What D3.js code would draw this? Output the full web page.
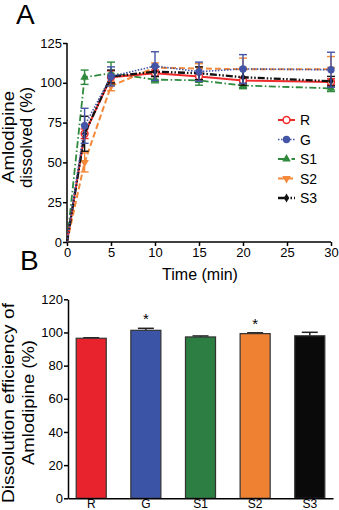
<!DOCTYPE html>
<html><head><meta charset="utf-8">
<script src="https://cdn.jsdelivr.net/npm/d3@7/dist/d3.min.js"></script>
<style>
body{margin:0;background:#fff;}
svg{display:block;font-family:"Liberation Sans",Arial,sans-serif;}
</style></head>
<body>
<svg id="c" width="339" height="510"></svg>
<script>
// ---- Panel A data ----
const times = [0, 2, 5, 10, 15, 20, 30];
const seriesNames = ["R", "G", "S1", "S2", "S3"];
const valR  = [0, 68, 103.5, 106, 104, 101.5, 100.5];
const errR  = [0, 3, 4, 2, 2, 2, 2];
const valG  = [0, 73, 104, 110.5, 107, 108.7, 108.2];
const errG  = [0, 11, 6, 9, 6, 9, 11];
const valS1 = [0, 103.5, 106, 102, 101.5, 98.3, 96.5];
const errS1 = [0, 4.5, 7, 2, 3, 2, 2];
const valS2 = [0, 50, 98, 109.5, 109, 108.5, 108.5];
const errS2 = [0, 6, 3, 3, 3, 7, 8];
const valS3 = [0, 68, 104, 107, 106, 103.5, 101];
const errS3 = [0, 11, 4, 3, 4, 5, 3];
const xTicksA = [0, 5, 10, 15, 20, 25, 30];
const yTicksA = [0, 25, 50, 75, 100, 125];

// ---- Panel B data ----
const barCats = ["R", "G", "S1", "S2", "S3"];
const barVals = [96.5, 101.3, 97.3, 99.3, 98];
const barErrs = [0.3, 1.2, 0.6, 0.5, 2.1];
const barSig  = [false, true, false, true, false];
const yTicksB = [0, 20, 40, 60, 80, 100, 120];

const colors = {R:"#ee2a2a", G:"#4454a6", S1:"#2f8a3e", S2:"#f4893a", S3:"#111111"};
const barColors = ["#e8232d", "#3c54a5", "#2d7e42", "#ef8232", "#0a0a0a"];
const dashes = {R:null, G:"1.5,1.5", S1:"7,2.5,1.5,2.5", S2:"6,3", S3:"7,2,1.5,2,1.5,2"};
const widths = {R:2, G:1.6, S1:1.8, S2:2, S3:2.3};
const markers = {R:"circleOpen", G:"circle", S1:"triUp", S2:"triDown", S3:"diamond"};

const svg = d3.select("#c");

// ===== Panel A =====
const xA = d3.scaleLinear().domain([0, 30]).range([67, 331]);
const yA = d3.scaleLinear().domain([0, 125]).range([242, 43]);

const axA = svg.append("g").attr("transform", "translate(0,242)")
  .call(d3.axisBottom(xA).tickValues(xTicksA).tickSize(4).tickSizeOuter(0).tickPadding(2));
const ayA = svg.append("g").attr("transform", "translate(67,0)")
  .call(d3.axisLeft(yA).tickValues(yTicksA).tickSize(4).tickSizeOuter(0).tickPadding(1));
[axA, ayA].forEach(g => {
  g.selectAll("path,line").attr("stroke", "#000").attr("stroke-width", 1.5);
  g.selectAll("text").attr("font-size", 13).attr("fill", "#000").attr("font-family", "Liberation Sans, Arial, sans-serif");
});
axA.select(".domain").attr("d", "M67,0H331");
ayA.select(".domain").attr("d", "M0,242V43");

const seriesData = {
  R: [valR, errR], G: [valG, errG], S1: [valS1, errS1], S2: [valS2, errS2], S3: [valS3, errS3]
};

function drawMarker(g, type, x, y, col) {
  if (type === "circleOpen") {
    g.append("circle").attr("cx", x).attr("cy", y).attr("r", 3.4).attr("fill", "#fff").attr("stroke", col).attr("stroke-width", 1.5);
  } else if (type === "circle") {
    g.append("circle").attr("cx", x).attr("cy", y).attr("r", 3.7).attr("fill", col);
  } else if (type === "triUp") {
    g.append("path").attr("d", d3.symbol(d3.symbolTriangle, 32)()).attr("transform", `translate(${x},${y})`).attr("fill", col);
  } else if (type === "triDown") {
    g.append("path").attr("d", d3.symbol(d3.symbolTriangle, 32)()).attr("transform", `translate(${x},${y}) rotate(180)`).attr("fill", col);
  } else if (type === "diamond") {
    g.append("path").attr("d", d3.symbol(d3.symbolDiamond, 24)()).attr("transform", `translate(${x},${y})`).attr("fill", col);
  }
}

const line = d3.line().x(d => xA(d[0])).y(d => yA(d[1]));
const drawOrder = ["S2", "S1", "R", "S3", "G"];
drawOrder.forEach(name => {
  const [vals, errs] = seriesData[name];
  const col = colors[name];
  const g = svg.append("g");
  times.forEach((t, i) => {
    if (errs[i] <= 0) return;
    const x = xA(t), y1 = yA(vals[i] + errs[i]), y0 = yA(vals[i] - errs[i]);
    g.append("line").attr("x1", x).attr("x2", x).attr("y1", y0).attr("y2", y1).attr("stroke", col).attr("stroke-width", 1.4);
    [y0, y1].forEach(yy => g.append("line").attr("x1", x - 4).attr("x2", x + 4).attr("y1", yy).attr("y2", yy).attr("stroke", col).attr("stroke-width", 1.4));
  });
  g.append("path").datum(times.map((t, i) => [t, vals[i]])).attr("d", line)
    .attr("fill", "none").attr("stroke", col).attr("stroke-width", widths[name])
    .attr("stroke-dasharray", dashes[name]);
  times.forEach((t, i) => { if (i > 0) drawMarker(g, markers[name], xA(t), yA(vals[i]), col); });
});

// legend
const legY = d3.scalePoint().domain(seriesNames).range([120, 198]);
seriesNames.forEach(name => {
  const col = colors[name];
  const y = legY(name);
  const g = svg.append("g");
  g.append("line").attr("x1", 278).attr("x2", 295).attr("y1", y).attr("y2", y).attr("stroke", col)
    .attr("stroke-width", widths[name]).attr("stroke-dasharray", dashes[name]);
  drawMarker(g, markers[name], 286.5, y, col);
  g.append("text").attr("x", 300).attr("y", y + 5).attr("font-size", 14).text(name);
});

svg.append("text").attr("x", 200).attr("y", 280).attr("text-anchor", "middle").attr("font-size", 16).text("Time (min)");
svg.append("text").attr("transform", "translate(14,137) rotate(-90)").attr("text-anchor", "middle").attr("font-size", 17)
  .attr("textLength", 92).attr("lengthAdjust", "spacingAndGlyphs").text("Amlodipine");
svg.append("text").attr("transform", "translate(32,137.5) rotate(-90)").attr("text-anchor", "middle").attr("font-size", 17)
  .attr("textLength", 101).attr("lengthAdjust", "spacingAndGlyphs").text("dissolved (%)");
svg.append("text").attr("x", 16).attr("y", 24).attr("font-size", 28).text("A");
svg.append("text").attr("x", 20).attr("y", 270).attr("font-size", 28).text("B");

// ===== Panel B =====
const xB = d3.scaleBand().domain(barCats).range([68, 333]).paddingInner(0.45).paddingOuter(0.15);
const yB = d3.scaleLinear().domain([0, 120]).range([498.3, 299.3]);

const gb = svg.append("g");
barCats.forEach((c, i) => {
  const x = xB(c), w = xB.bandwidth(), cx = x + w / 2;
  const top = yB(barVals[i] + barErrs[i]);
  gb.append("line").attr("x1", cx).attr("x2", cx).attr("y1", yB(barVals[i])).attr("y2", top).attr("stroke", "#222").attr("stroke-width", 1.5);
  gb.append("line").attr("x1", cx - 8).attr("x2", cx + 8).attr("y1", top).attr("y2", top).attr("stroke", "#222").attr("stroke-width", 1.5);
  gb.append("rect").attr("x", x).attr("y", yB(barVals[i])).attr("width", w).attr("height", yB(0) - yB(barVals[i]))
    .attr("fill", barColors[i]).attr("stroke", "#333").attr("stroke-width", 1.2);
  if (barSig[i]) gb.append("text").attr("x", cx).attr("y", top - 4).attr("text-anchor", "middle").attr("font-size", 15).text("*");
});

const axB = svg.append("g").attr("transform", "translate(0,498.3)")
  .call(d3.axisBottom(xB).tickSize(0).tickSizeOuter(0).tickPadding(1.5));
const ayB = svg.append("g").attr("transform", "translate(68,0)")
  .call(d3.axisLeft(yB).tickValues(yTicksB).tickSize(4).tickSizeOuter(0).tickPadding(1));
[axB, ayB].forEach(g => {
  g.selectAll("path,line").attr("stroke", "#000").attr("stroke-width", 1.5);
  g.selectAll("text").attr("font-size", 13).attr("fill", "#000").attr("font-family", "Liberation Sans, Arial, sans-serif");
});
axB.selectAll("text").attr("font-size", 12);

svg.append("text").attr("transform", "translate(14,403) rotate(-90)").attr("text-anchor", "middle").attr("font-size", 17)
  .attr("textLength", 200).attr("lengthAdjust", "spacingAndGlyphs").text("Dissolution efficiency of");
svg.append("text").attr("transform", "translate(34,402.5) rotate(-90)").attr("text-anchor", "middle").attr("font-size", 17)
  .attr("textLength", 125).attr("lengthAdjust", "spacingAndGlyphs").text("Amlodipine  (%)");
</script>
</body></html>
